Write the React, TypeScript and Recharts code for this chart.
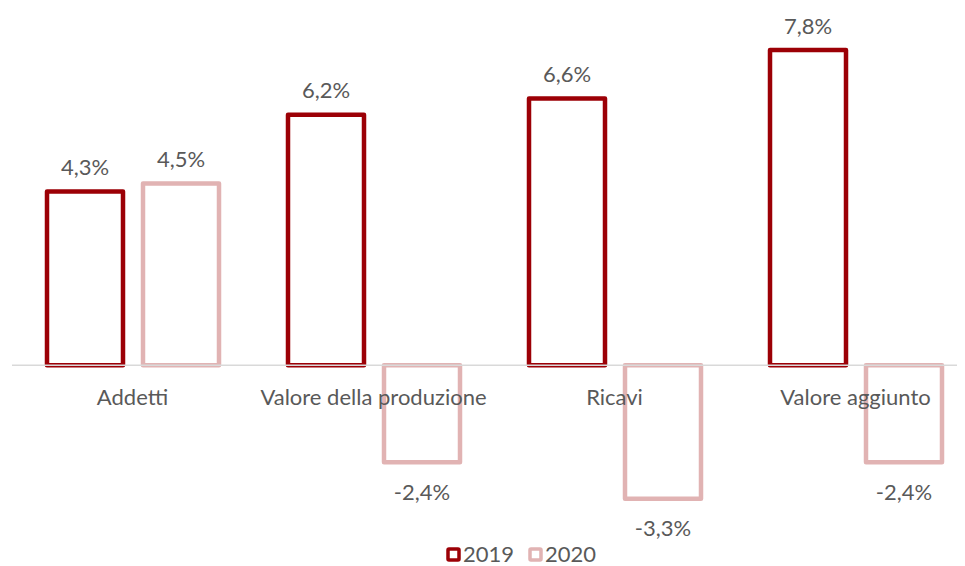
import { BarChart, Bar, XAxis, YAxis, ReferenceLine, Legend, LabelList } from 'recharts'

const categorie = ['Addetti', 'Valore della produzione', 'Ricavi', 'Valore aggiunto']
const valori2019 = [4.3, 6.2, 6.6, 7.8]
const valori2020 = [4.5, -2.4, -3.3, -2.4]

const dati = categorie.map((c, i) => ({ categoria: c, a2019: valori2019[i], a2020: valori2020[i] }))

const COLORE_2019 = '#9c0006'
const COLORE_2020 = '#e1b3b3'
const TESTO = '#595959'
const FONT = 'Lato, "Open Sans", sans-serif'
const DIM_FONT = 22

const DOMINIO: [number, number] = [-4, 8]
const ALTEZZA = 558
const MARGINE = { top: 34, right: 4, bottom: 14, left: 4 }
const LEGENDA_H = 24
const ASSE_X_H = 1
const ALTEZZA_PLOT = ALTEZZA - MARGINE.top - MARGINE.bottom - LEGENDA_H - ASSE_X_H

const formatta = (v: number) => `${v.toFixed(1).replace('.', ',')}%`

function EtichettaValore(props: any) {
  const { x, y, width, height, value } = props
  const alto = Math.min(y, y + height)
  const basso = Math.max(y, y + height)
  const cy = value >= 0 ? alto - 25 : basso + 29
  return (
    <text x={x + width / 2} y={cy} textAnchor="middle" dominantBaseline="central"
      fill={TESTO} fontSize={DIM_FONT} fontFamily={FONT}>
      {formatta(value)}
    </text>
  )
}

function TickCategoria(props: any) {
  const { x, y, payload } = props
  // porta l'etichetta sotto la linea dello zero
  const zeroY = y - ((0 - DOMINIO[0]) / (DOMINIO[1] - DOMINIO[0])) * ALTEZZA_PLOT
  return (
    <text x={x} y={zeroY + 31} textAnchor="middle" dominantBaseline="central"
      fill={TESTO} fontSize={DIM_FONT} fontFamily={FONT}>
      {payload.value}
    </text>
  )
}

function Legenda() {
  const voci = [
    { nome: '2019', colore: COLORE_2019 },
    { nome: '2020', colore: COLORE_2020 },
  ]
  return (
    <div style={{ display: 'flex', justifyContent: 'center', gap: 14, transform: 'translateX(27px)', fontFamily: FONT, fontSize: DIM_FONT, color: TESTO, lineHeight: '24px' }}>
      {voci.map((v) => (
        <div key={v.nome} style={{ display: 'flex', alignItems: 'center', gap: 2 }}>
          <svg width={15} height={15}>
            <rect x={2} y={2} width={11} height={11} fill="#fff" stroke={v.colore} strokeWidth={3.5} rx={1} />
          </svg>
          <span>{v.nome}</span>
        </div>
      ))}
    </div>
  )
}

export default function App() {
  return (
    <div style={{ width: 957, overflow: 'hidden' }}>
      <BarChart width={972} height={ALTEZZA} data={dati} margin={MARGINE} barSize={76} barGap={20}>
        <XAxis dataKey="categoria" height={ASSE_X_H} axisLine={false} tickLine={false} tickSize={0} tickMargin={0}
          interval={0} tick={(p: any) => <TickCategoria {...p} />} />
        <YAxis hide domain={DOMINIO} />
        <ReferenceLine y={0} stroke="#d9d9d9" strokeWidth={1.5} />
        <Legend verticalAlign="bottom" height={LEGENDA_H} wrapperStyle={{ bottom: 0 }} content={() => <Legenda />} />
        <Bar dataKey="a2019" fill="#fff" stroke={COLORE_2019} strokeWidth={4.5} strokeLinejoin="round" isAnimationActive={false}>
          <LabelList dataKey="a2019" content={<EtichettaValore />} />
        </Bar>
        <Bar dataKey="a2020" fill="#fff" stroke={COLORE_2020} strokeWidth={4.5} strokeLinejoin="round" isAnimationActive={false}>
          <LabelList dataKey="a2020" content={<EtichettaValore />} />
        </Bar>
      </BarChart>
    </div>
  )
}
